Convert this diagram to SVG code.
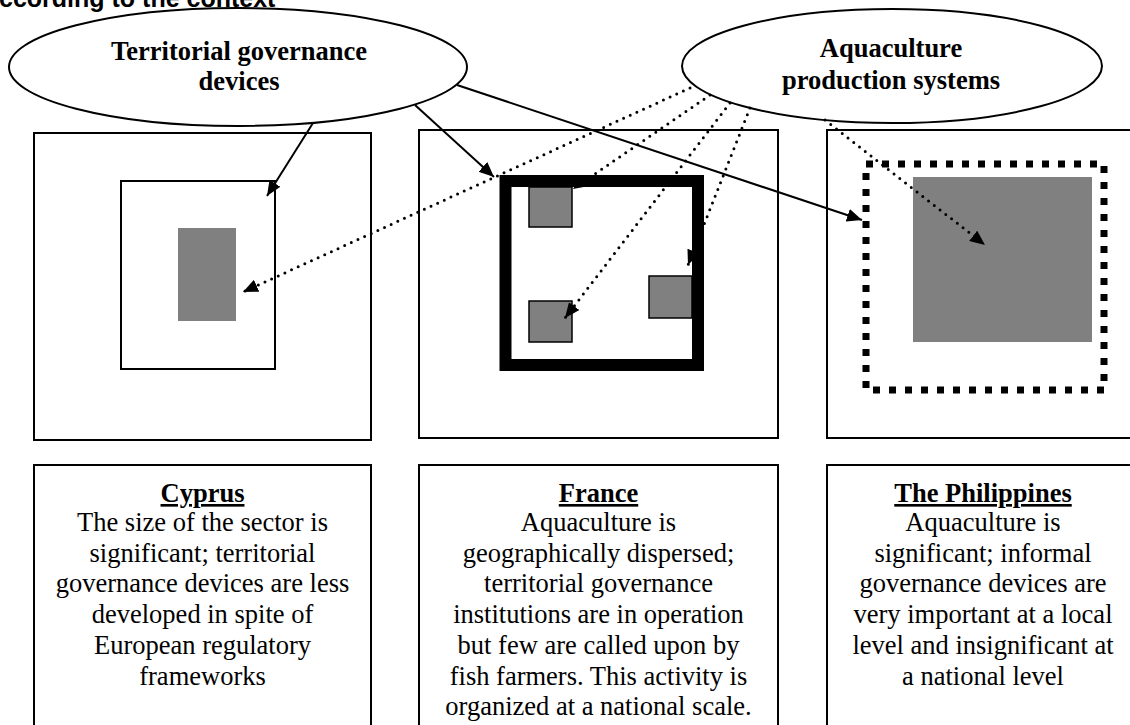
<svg xmlns="http://www.w3.org/2000/svg" width="1130" height="725" viewBox="0 0 1130 725">
  <style>
    .frame { fill: #ffffff; stroke: #000000; stroke-width: 2; }
    .oval { fill: #ffffff; stroke: #000000; stroke-width: 2; }
    .farm { fill: #808080; stroke: none; }
    .farm-edged { fill: #808080; stroke: #000000; stroke-width: 1.5; }
    .label { font-family: "Liberation Serif", "Times New Roman", serif; font-size: 26.5px; fill: #000000; text-anchor: middle; }
    .bold { font-weight: bold; }
    .title { font-family: "Liberation Sans", Arial, sans-serif; font-size: 25px; font-weight: bold; fill: #000000; }
    .solid { fill: none; stroke: #000000; stroke-width: 2; }
    .dotted { fill: none; stroke: #000000; stroke-width: 3; stroke-linecap: round; stroke-dasharray: 0 7.3; }
  </style>
  <defs>
    <marker id="head" markerUnits="userSpaceOnUse" markerWidth="16" markerHeight="14" refX="15" refY="6.5" orient="auto">
      <path d="M0,0 L15,6.5 L0,13 z" fill="#000000" stroke="none"/>
    </marker>
  </defs>

  <rect width="1130" height="725" fill="#ffffff"/>

  <!-- heading, clipped at the top edge -->
  <text class="title" x="-1" y="7">ccording to the context</text>

  <!-- upper panels -->
  <g id="cyprus-panel">
    <rect class="frame" x="34" y="133" width="337" height="307"/>
    <rect class="frame" x="121" y="181" width="154" height="188"/>
    <rect class="farm" x="178" y="228" width="58" height="93"/>
  </g>

  <g id="france-panel">
    <rect class="frame" x="419" y="130" width="359" height="308"/>
    <rect x="505.5" y="181" width="192.5" height="184" fill="none" stroke="#000000" stroke-width="12"/>
    <rect class="farm-edged" x="529" y="187" width="43" height="40"/>
    <rect class="farm-edged" x="529" y="301" width="43" height="41"/>
    <rect class="farm-edged" x="649" y="276" width="43" height="42"/>
  </g>

  <g id="philippines-panel">
    <rect class="frame" x="827" y="130" width="320" height="308"/>
    <rect x="866" y="164" width="238" height="226" fill="none" stroke="#000000" stroke-width="7" stroke-dasharray="7 9"/>
    <rect class="farm" x="913" y="177" width="179" height="165"/>
  </g>

  <!-- ovals -->
  <g id="governance-devices">
    <ellipse class="oval" cx="238" cy="67" rx="229" ry="59"/>
    <text class="label bold" x="239" y="60">Territorial governance</text>
    <text class="label bold" x="239" y="90">devices</text>
  </g>

  <g id="production-systems">
    <ellipse class="oval" cx="892" cy="66" rx="210" ry="57"/>
    <text class="label bold" x="891" y="57">Aquaculture</text>
    <text class="label bold" x="891" y="89">production systems</text>
  </g>

  <!-- connectors -->
  <g id="connectors">
    <line class="solid" x1="313" y1="123" x2="267" y2="196" marker-end="url(#head)"/>
    <line class="solid" x1="415" y1="105" x2="494" y2="177" marker-end="url(#head)"/>
    <line class="solid" x1="457" y1="85" x2="862" y2="220" marker-end="url(#head)"/>
    <line class="dotted" x1="690" y1="88" x2="243" y2="292" marker-end="url(#head)"/>
    <line class="dotted" x1="710" y1="95" x2="573" y2="189" marker-end="url(#head)"/>
    <line class="dotted" x1="730" y1="103" x2="565" y2="318" marker-end="url(#head)"/>
    <line class="dotted" x1="750" y1="108" x2="688" y2="265" marker-end="url(#head)"/>
    <line class="dotted" x1="825" y1="120" x2="985" y2="245" marker-end="url(#head)"/>
  </g>

  <!-- lower description panels -->
  <g id="cyprus-text">
    <rect class="frame" x="34" y="465" width="337" height="270"/>
    <text class="label bold" x="202.5" y="502" text-decoration="underline">Cyprus</text>
    <text class="label" x="202.5" y="531">The size of the sector is</text>
    <text class="label" x="202.5" y="561.7">significant; territorial</text>
    <text class="label" x="202.5" y="592.4">governance devices are less</text>
    <text class="label" x="202.5" y="623.1">developed in spite of</text>
    <text class="label" x="202.5" y="653.8">European regulatory</text>
    <text class="label" x="202.5" y="684.5">frameworks</text>
  </g>

  <g id="france-text">
    <rect class="frame" x="419" y="465" width="359" height="270"/>
    <text class="label bold" x="598.5" y="502" text-decoration="underline">France</text>
    <text class="label" x="598.5" y="531">Aquaculture is</text>
    <text class="label" x="598.5" y="561.7">geographically dispersed;</text>
    <text class="label" x="598.5" y="592.4">territorial governance</text>
    <text class="label" x="598.5" y="623.1">institutions are in operation</text>
    <text class="label" x="598.5" y="653.8">but few are called upon by</text>
    <text class="label" x="598.5" y="684.5">fish farmers. This activity is</text>
    <text class="label" x="598.5" y="715.2">organized at a national scale.</text>
  </g>

  <g id="philippines-text">
    <rect class="frame" x="827" y="465" width="320" height="270"/>
    <text class="label bold" x="983" y="502" text-decoration="underline">The Philippines</text>
    <text class="label" x="983" y="531">Aquaculture is</text>
    <text class="label" x="983" y="561.7">significant; informal</text>
    <text class="label" x="983" y="592.4">governance devices are</text>
    <text class="label" x="983" y="623.1">very important at a local</text>
    <text class="label" x="983" y="653.8">level and insignificant at</text>
    <text class="label" x="983" y="684.5">a national level</text>
  </g>
</svg>
